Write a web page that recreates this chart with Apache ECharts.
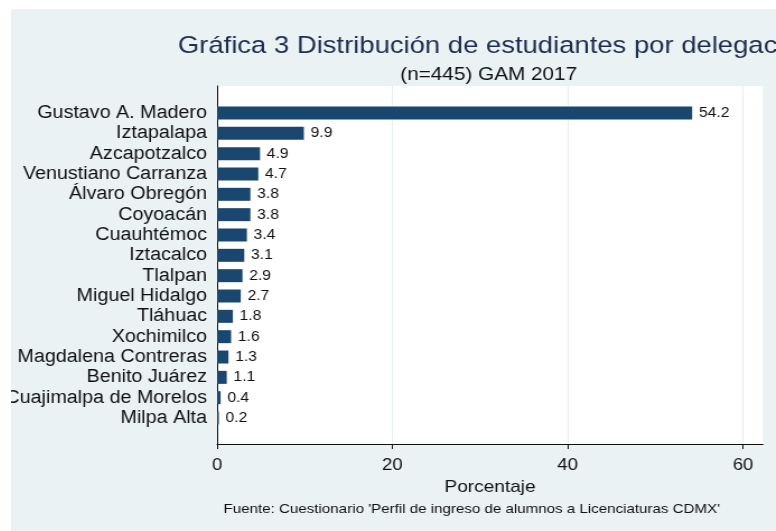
<!DOCTYPE html>
<html>
<head>
<meta charset="utf-8">
<script src="https://cdn.jsdelivr.net/npm/echarts@6/dist/echarts.min.js"></script>
<style>
html,body{margin:0;padding:0;background:#fff;width:776px;height:531px;overflow:hidden;}
/* la gráfica original viene estirada a lo ancho */
#chart{position:absolute;left:11px;top:9px;width:683px;height:522px;transform:scaleX(1.12);transform-origin:0 0;}
</style>
</head>
<body>
<div id="chart"></div>
<script>
var categories=['Gustavo A. Madero','Iztapalapa','Azcapotzalco','Venustiano Carranza','Álvaro Obregón','Coyoacán','Cuauhtémoc','Iztacalco','Tlalpan','Miguel Hidalgo','Tláhuac','Xochimilco','Magdalena Contreras','Benito Juárez','Cuajimalpa de Morelos','Milpa Alta'];
var values=[54.2,9.9,4.9,4.7,3.8,3.8,3.4,3.1,2.9,2.7,1.8,1.6,1.3,1.1,0.4,0.2];
var xTicks=[0,20,40,60];

var font='"Liberation Sans", Arial, sans-serif';
var chart=echarts.init(document.getElementById('chart'));
var option={
	backgroundColor:'#EAF2F3',
	animation:false,
	textStyle:{fontFamily:font},
	title:[{
		text:'Gráfica 3 Distribución de estudiantes por delegación',
		left:144,top:20,
		textStyle:{fontSize:24.5,fontWeight:'normal',color:'#1E2D4F',fontFamily:font}
	},{
		text:'(n=445) GAM 2017',
		left:421.5,top:51,textAlign:'center',
		textStyle:{fontSize:18.5,fontWeight:'normal',color:'#111',fontFamily:font}
	},{
		text:"Fuente: Cuestionario 'Perfil de ingreso de alumnos a Licenciaturas CDMX'",
		left:406.5,top:488,textAlign:'center',
		textStyle:{fontSize:13.5,fontWeight:'normal',color:'#111',fontFamily:font}
	}],
	grid:[
		//marco blanco
		{left:184,right:11.6,top:77,bottom:87,show:true,backgroundColor:'#fff',borderWidth:0,outerBoundsMode:'none'},
		//barras
		{left:184,right:11.6,top:93.8,bottom:102.8,outerBoundsMode:'none'}
	],
	xAxis:[{
		gridIndex:0,type:'value',min:0,max:62.28,interval:20,
		name:'Porcentaje',nameLocation:'middle',nameGap:30,
		nameTextStyle:{fontSize:17,color:'#111',fontFamily:font},
		axisLine:{show:true,lineStyle:{color:'#111',width:1}},
		axisTick:{show:true,length:5,customValues:xTicks,lineStyle:{color:'#111'}},
		axisLabel:{fontSize:16.5,color:'#111',margin:13,customValues:xTicks,fontFamily:font},
		splitLine:{show:true,lineStyle:{color:'#E6EEF0',width:1}}
	},{
		gridIndex:1,type:'value',min:0,max:62.28,show:false
	}],
	yAxis:[{
		gridIndex:0,type:'value',min:0,max:1,
		axisLine:{show:true,lineStyle:{color:'#111',width:1}},
		axisTick:{show:false},axisLabel:{show:false},splitLine:{show:false}
	},{
		gridIndex:1,type:'category',data:categories,inverse:true,
		axisLine:{show:false},axisTick:{show:false},
		axisLabel:{interval:0,fontSize:17.6,color:'#111',margin:9,fontFamily:font}
	}],
	series:[{
		type:'bar',xAxisIndex:1,yAxisIndex:1,
		data:values,barWidth:13,
		itemStyle:{color:'#1A476F'},
		label:{show:true,position:'right',distance:6,fontSize:14,color:'#111',fontFamily:font,
			formatter:function(p){return p.value.toFixed(1);}}
	}]
};
chart.setOption(option);
</script>
</body>
</html>
